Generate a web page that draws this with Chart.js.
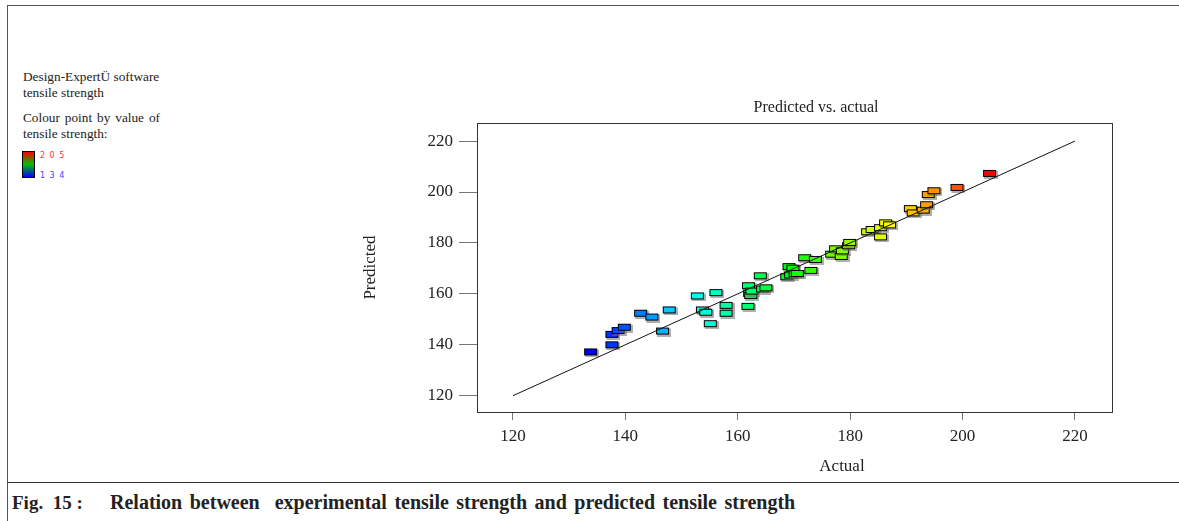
<!DOCTYPE html>
<html>
<head>
<meta charset="utf-8">
<script src="https://cdn.jsdelivr.net/npm/chart.js"></script>
<style>
  body { margin: 0; background: #fff; font-family: "Liberation Serif", "Times New Roman", serif; }
  #wrap { position: relative; width: 1179px; height: 521px; overflow: hidden; }
  #chartBox { position: absolute; left: 0; top: 0; width: 1179px; height: 483px; }
  .t { position: absolute; white-space: pre; color: #222; line-height: 1; }
  .ln { position: absolute; background: #555; }
  #cbar { position: absolute; left: 22px; top: 151px; width: 11px; height: 25px; border: 1px solid #000;
          background: linear-gradient(#ff0000, #00c000 50%, #0000ff); }
  .cnum { position: absolute; font-family: "DejaVu Sans", sans-serif; font-size: 8px; letter-spacing: 4.5px; }
  .cap { font-size: 19px; font-weight: bold; top: 493px; }
</style>
</head>
<body>
<div id="wrap">
  <div class="ln" style="left:7px;top:5px;width:1172px;height:1px;"></div>
  <div class="ln" style="left:7px;top:5px;width:1px;height:516px;"></div>
  <div class="ln" style="left:7px;top:482px;width:1172px;height:1px;background:#333;"></div>

  <div class="t" style="left:23px;top:70px;font-size:13.3px;">Design-ExpertÜ software</div>
  <div class="t" style="left:23px;top:86px;font-size:13.3px;">tensile strength</div>
  <div class="t" style="left:23px;top:111px;font-size:13.3px;width:137px;text-align:justify;text-align-last:justify;white-space:normal;">Colour point by value of</div>
  <div class="t" style="left:23px;top:127px;font-size:13.3px;">tensile strength:</div>
  <div id="cbar"></div>
  <div class="cnum" style="left:40px;top:151px;color:#f33;">205</div>
  <div class="cnum" style="left:40px;top:171px;color:#44f;">134</div>

  <div id="chartBox"><canvas id="chart" width="1179" height="483"></canvas></div>

  <div class="t" style="left:716px;top:99px;width:200px;text-align:center;font-size:16px;">Predicted vs. actual</div>
  <div class="t" style="left:792px;top:457px;width:100px;text-align:center;font-size:17px;">Actual</div>
  <div class="t cap" style="left:12px;">Fig.  15 :</div>
  <div class="t cap" style="left:110px;font-size:20px;top:492px;word-spacing:2.5px;">Relation between  experimental tensile strength and predicted tensile strength</div>
</div>

<script>
// ========================== Datos
const actual = [133.9, 137.7, 137.7, 138.8, 139.9, 142.8, 144.8, 147.9, 146.7, 152.9,
                156.2, 153.8, 154.4, 155.2, 158.0, 158.0, 161.9, 162.0, 162.2, 162.4,
                162.6, 164.1, 164.5, 165.1, 168.8, 169.2, 169.5, 169.9, 170.3, 170.7,
                172.0, 173.1, 173.9, 176.8, 177.5, 178.5, 178.7, 179.8, 180.0, 183.2,
                184.0, 185.5, 185.5, 186.4, 187.1, 190.8, 191.3, 193.1, 193.7, 194.0,
                195.0, 199.1, 204.9];
const predicted = [137.0, 139.8, 143.9, 145.4, 146.7, 152.2, 150.7, 153.5, 145.2, 159.0,
                   160.3, 153.5, 152.6, 148.1, 155.3, 152.2, 154.9, 163.0, 160.0, 159.2,
                   160.9, 166.9, 161.7, 162.2, 166.5, 170.5, 167.2, 169.9, 167.7, 167.8,
                   174.0, 169.0, 173.3, 175.4, 177.5, 174.5, 176.7, 178.7, 180.0, 184.2,
                   185.1, 185.8, 182.2, 187.7, 186.9, 193.3, 191.6, 192.7, 194.8, 198.8,
                   200.3, 201.6, 207.1];
const fitLineX = [120, 220];
const fitLineY = [120, 220];
const xTicks = [120, 140, 160, 180, 200, 220];
const yTicks = [120, 140, 160, 180, 200, 220];
const colourMin = 134;
const colourMax = 205;

// ========================== Marcadores rectangulares
function colourFor(v) {
    let t = (v - colourMin) / (colourMax - colourMin);
    t = Math.max(0, Math.min(1, t));
    return `hsl(${240 * (1 - t)}, 100%, 50%)`;
}

function makeMarker(v) {
    const c = document.createElement('canvas');
    c.width = 16;
    c.height = 10;
    const g = c.getContext('2d');
    g.fillStyle = 'rgba(110,110,110,0.55)';
    g.fillRect(2, 2, 14, 8);
    g.fillStyle = colourFor(v);
    g.fillRect(1, 1, 13, 7);
    g.strokeStyle = '#000';
    g.lineWidth = 1;
    g.strokeRect(1.5, 1.5, 12, 6);
    return c;
}
const markers = actual.map(makeMarker);

// Caja alrededor del área del gráfico
const boxPlugin = {
    id: 'box',
    afterDraw(chart) {
        const { ctx, chartArea: a } = chart;
        ctx.save();
        ctx.strokeStyle = '#333';
        ctx.lineWidth = 1;
        ctx.strokeRect(Math.round(a.left) + 0.5, Math.round(a.top) + 0.5,
                       Math.round(a.right - a.left), Math.round(a.bottom - a.top));
        ctx.restore();
    }
};

const tickFont = { family: '"Liberation Serif", serif', size: 17 };

new Chart(document.getElementById('chart'), {
    type: 'scatter',
    data: {
        datasets: [
            {
                label: 'fit',
                data: fitLineX.map((x, i) => ({ x: x, y: fitLineY[i] })),
                showLine: true,
                borderColor: '#111',
                borderWidth: 1,
                pointRadius: 0,
                order: 0
            },
            {
                label: 'tensile strength',
                data: actual.map((x, i) => ({ x: x, y: predicted[i] })),
                pointStyle: ctx => markers[ctx.dataIndex],
                pointRadius: 5,
                order: 1
            }
        ]
    },
    options: {
        responsive: false,
        animation: false,
        layout: { padding: { left: 356, right: 67, top: 123, bottom: 0 } },
        plugins: {
            legend: { display: false },
            tooltip: { enabled: false }
        },
        scales: {
            x: {
                type: 'linear',
                min: 113.6,
                max: 226.6,
                afterBuildTicks: s => { s.ticks = xTicks.map(v => ({ value: v })); },
                afterFit: s => { s.height = 71; },
                ticks: { font: tickFont, color: '#222', padding: 6, maxRotation: 0 },
                grid: { drawOnChartArea: false, drawTicks: true, tickLength: 8, color: '#777' },
                border: { display: true, color: '#333' }
            },
            y: {
                type: 'linear',
                min: 113.6,
                max: 227.1,
                afterBuildTicks: s => { s.ticks = yTicks.map(v => ({ value: v })); },
                afterFit: s => { s.width = 121; },
                ticks: { font: tickFont, color: '#222', padding: 6 },
                grid: { drawOnChartArea: false, drawTicks: true, tickLength: 18, color: '#777' },
                border: { display: true, color: '#333' },
                title: {
                    display: true,
                    text: 'Predicted',
                    font: { family: '"Liberation Serif", serif', size: 17 },
                    color: '#222',
                    padding: { top: 4, bottom: 4 }
                }
            }
        }
    },
    plugins: [boxPlugin]
});
</script>
</body>
</html>
